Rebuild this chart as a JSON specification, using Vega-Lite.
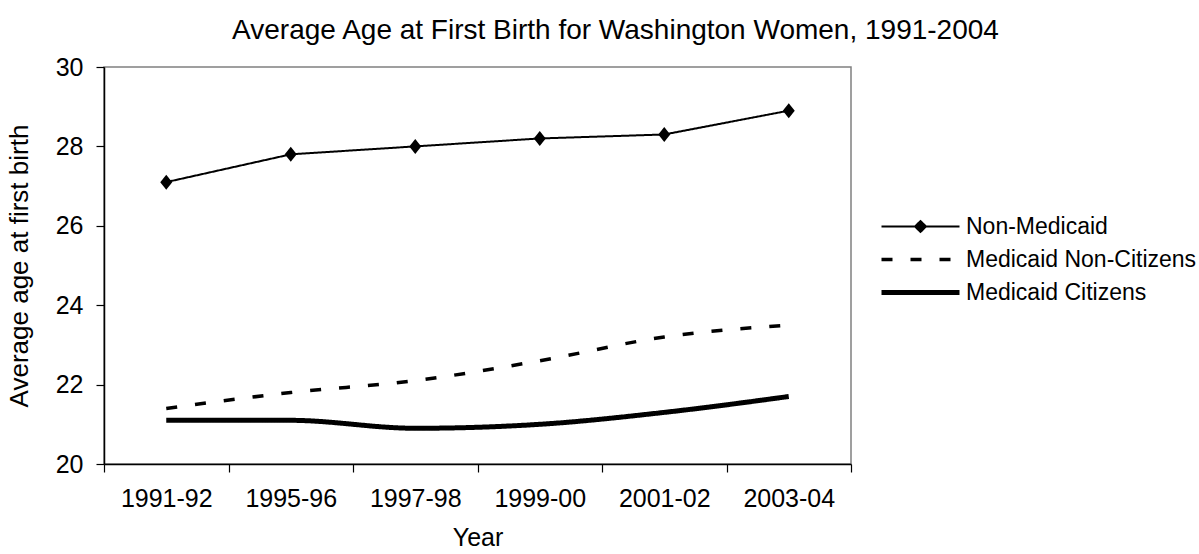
{
  "$schema": "https://vega.github.io/schema/vega-lite/v6.json",
  "autosize": "none",
  "width": 747,
  "height": 397,
  "padding": {"left": 104, "top": 67, "right": 348, "bottom": 90},
  "background": "white",
  "config": {
    "font": "Liberation Sans",
    "view": {"stroke": "#808080", "strokeWidth": 1.5},
    "axis": {"labelColor": "black", "titleColor": "black", "domainColor": "black", "tickColor": "black", "labelFontSize": 25, "titleFontSize": 25, "titleFontWeight": "normal", "grid": false, "tickSize": 8, "domainWidth": 1.5, "tickWidth": 1.2},
    "legend": {"labelFontSize": 23, "labelColor": "black", "padding": 0}
  },
  "title": {"text": "Average Age at First Birth for Washington Women, 1991-2004", "fontSize": 28, "fontWeight": "normal", "color": "black", "anchor": "middle", "dx": 138, "offset": 10},
  "data": {"values": [
    {"year": "1991-92", "series": "Non-Medicaid", "age": 27.1},
    {"year": "1995-96", "series": "Non-Medicaid", "age": 27.8},
    {"year": "1997-98", "series": "Non-Medicaid", "age": 28.0},
    {"year": "1999-00", "series": "Non-Medicaid", "age": 28.2},
    {"year": "2001-02", "series": "Non-Medicaid", "age": 28.3},
    {"year": "2003-04", "series": "Non-Medicaid", "age": 28.9},
    {"year": "1991-92", "series": "Medicaid Non-Citizens", "age": 21.4},
    {"year": "1995-96", "series": "Medicaid Non-Citizens", "age": 21.8},
    {"year": "1997-98", "series": "Medicaid Non-Citizens", "age": 22.1},
    {"year": "1999-00", "series": "Medicaid Non-Citizens", "age": 22.6},
    {"year": "2001-02", "series": "Medicaid Non-Citizens", "age": 23.2},
    {"year": "2003-04", "series": "Medicaid Non-Citizens", "age": 23.5},
    {"year": "1991-92", "series": "Medicaid Citizens", "age": 21.1},
    {"year": "1995-96", "series": "Medicaid Citizens", "age": 21.1},
    {"year": "1997-98", "series": "Medicaid Citizens", "age": 20.9},
    {"year": "1999-00", "series": "Medicaid Citizens", "age": 21.0},
    {"year": "2001-02", "series": "Medicaid Citizens", "age": 21.3},
    {"year": "2003-04", "series": "Medicaid Citizens", "age": 21.7}
  ]},
  "encoding": {
    "x": {"field": "year", "type": "nominal", "sort": null,
      "scale": {"type": "band", "paddingInner": 0, "paddingOuter": 0},
      "axis": {"title": "Year", "labelAngle": 0, "tickBand": "extent", "labelPadding": 14, "titlePadding": 14}},
    "y": {"field": "age", "type": "quantitative",
      "scale": {"domain": [20, 30], "nice": false, "zero": false},
      "axis": {"title": "Average age at first birth", "titleFontSize": 26, "values": [20, 22, 24, 26, 28, 30], "labelPadding": 13, "titlePadding": 23}}
  },
  "layer": [
    {
      "transform": [{"filter": "datum.series !== 'Non-Medicaid'"}],
      "mark": {"type": "line", "color": "black", "interpolate": "monotone"},
      "encoding": {
        "strokeDash": {"field": "series", "type": "nominal",
          "scale": {"domain": ["Non-Medicaid", "Medicaid Non-Citizens", "Medicaid Citizens"], "range": [[1, 0], [11, 18], [1, 0]]},
          "legend": {"title": null, "orient": "none", "legendX": 775, "legendY": 143, "symbolType": "stroke", "symbolSize": 6084, "symbolStrokeColor": "black", "labelOffset": 4, "rowPadding": 0, "clipHeight": 33, "labelLimit": 0, "symbolLimit": 0,
            "encode": {"symbols": {"update": {
              "shape": {"signal": "datum.value === 'Non-Medicaid' ? 'M-1,0L1,0M0,-0.14L0.14,0L0,0.14L-0.14,0Z' : 'stroke'"},
              "fill": {"signal": "datum.value === 'Non-Medicaid' ? 'black' : 'transparent'"},
              "stroke": {"value": "black"}
            }}}}},
        "strokeWidth": {"field": "series", "type": "nominal",
          "scale": {"domain": ["Non-Medicaid", "Medicaid Non-Citizens", "Medicaid Citizens"], "range": [2, 5, 5]}}
      }
    },
    {
      "transform": [{"filter": "datum.series === 'Non-Medicaid'"}],
      "mark": {"type": "line", "color": "black", "interpolate": "linear"},
      "encoding": {
        "strokeDash": {"field": "series", "type": "nominal"},
        "strokeWidth": {"field": "series", "type": "nominal"}
      }
    },
    {
      "transform": [{"filter": "datum.series === 'Non-Medicaid'"}],
      "mark": {"type": "point", "shape": "M0,-1L0.8,0L0,1L-0.8,0Z", "filled": true, "color": "black", "size": 225, "opacity": 1, "strokeWidth": 0},
      "encoding": {}
    }
  ]
}
